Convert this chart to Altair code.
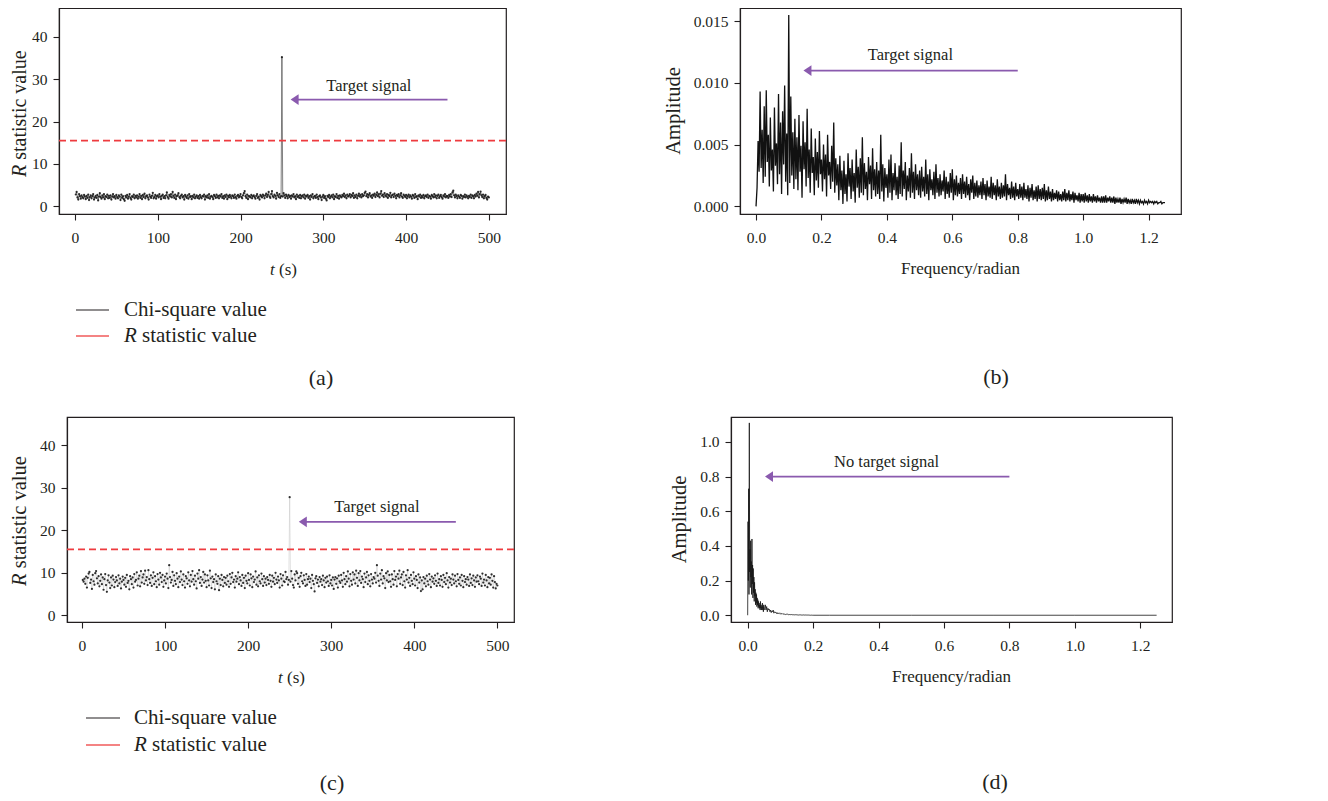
import altair as alt
import numpy as np
import pandas as pd

FONT = "Liberation Serif"
INK = "#231f20"
PURPLE = "#8a5aae"
RED = "#ee3b3f"

# ---------------- data ----------------
chi_a = [
    2.8,3.4,2.1,1.6,2.9,2.4,1.8,2.6,2.2,1.9,2.7,2.3,1.7,2.5,2.0,2.8,1.5,2.2,2.6,1.9,2.4,2.9,1.6,2.1,2.5,
    2.0,2.7,1.4,2.3,3.1,2.2,1.8,2.6,2.1,2.9,1.7,2.4,2.2,2.8,1.9,2.5,2.0,2.6,1.6,2.3,2.9,2.1,2.4,1.8,2.7,
    2.2,1.9,2.6,2.3,1.5,2.8,2.0,2.4,1.7,1.3,2.5,2.1,2.7,1.8,2.3,2.9,2.0,1.6,2.4,2.2,2.8,1.9,2.5,2.1,2.6,
    1.8,2.3,2.9,2.0,2.5,1.7,2.7,2.2,3.0,1.9,2.4,2.6,2.1,1.6,2.8,2.3,2.0,2.5,3.2,1.9,2.2,2.7,1.8,2.4,2.6,
    2.1,2.9,2.3,1.7,2.5,2.8,2.0,2.4,1.9,2.6,3.3,2.2,1.8,2.7,2.3,2.9,2.1,3.4,2.5,2.0,2.8,1.7,2.4,2.6,3.1,
    2.2,1.9,2.5,2.8,2.1,2.4,1.6,2.7,2.3,2.0,2.6,1.8,2.9,2.2,2.4,1.7,2.5,2.1,2.8,1.9,2.3,2.6,2.0,2.4,1.8,
    2.7,2.2,1.9,2.5,2.3,2.8,1.6,2.4,2.1,2.6,2.0,2.9,1.8,2.3,2.5,2.2,1.7,2.7,2.4,2.0,2.8,2.1,2.5,1.9,2.6,
    2.3,2.9,2.0,2.4,1.8,2.6,2.2,2.8,1.7,2.5,2.1,2.7,2.3,1.9,2.6,2.4,2.0,2.8,2.2,1.8,2.5,2.7,2.1,2.4,2.9,
    2.2,1.9,2.6,3.1,3.6,2.4,2.0,2.8,1.7,2.5,2.3,2.1,2.7,1.9,2.4,2.6,2.2,1.8,2.5,2.9,2.0,2.3,1.6,2.7,2.4,
    2.1,2.8,2.5,1.9,2.6,3.0,2.2,2.7,3.4,2.3,2.0,2.9,3.6,2.4,2.1,2.8,2.5,1.8,3.2,2.6,2.2,2.9,2.0,2.4,35.2,
    2.3,3.1,2.6,2.0,2.8,2.4,1.9,2.7,2.2,2.5,1.8,2.6,2.3,2.9,2.1,2.4,1.7,2.8,2.2,2.5,2.0,2.7,1.9,2.4,2.6,
    2.1,2.8,1.8,2.5,2.3,2.7,2.0,2.4,1.6,2.6,2.2,2.9,1.9,2.3,2.5,2.0,2.8,2.2,1.7,2.4,2.6,2.1,1.5,2.3,2.7,
    2.0,2.4,1.8,1.4,2.5,2.2,2.7,1.9,2.3,2.6,2.1,2.8,1.7,2.4,2.2,2.9,2.0,2.5,1.8,2.6,2.3,2.1,2.7,2.4,3.0,
    2.2,2.6,1.9,2.8,2.3,2.5,2.9,2.1,2.7,2.4,3.1,2.0,2.6,2.2,2.8,1.9,2.5,3.0,2.3,2.7,2.1,2.9,2.4,2.6,3.2,
    3.5,2.4,2.9,2.1,2.7,3.1,2.3,2.6,2.0,2.8,2.5,3.0,2.2,2.7,3.3,2.4,2.9,2.1,3.0,3.6,2.5,2.8,2.2,3.1,2.6,
    2.3,2.9,2.0,2.7,2.4,3.2,2.1,2.6,2.8,2.2,3.0,2.5,1.9,2.7,2.4,2.9,2.1,2.6,3.1,2.3,2.0,2.8,2.5,2.2,2.7,
    1.9,2.4,2.8,2.1,2.6,2.3,1.8,2.7,2.5,2.0,2.9,2.2,2.4,1.7,2.6,2.3,2.8,2.0,2.5,2.1,2.7,1.9,2.4,2.6,2.2,
    2.8,2.0,2.5,2.3,1.8,2.7,2.4,2.1,2.9,2.2,2.6,1.9,2.5,2.8,2.0,2.4,2.7,2.2,1.8,2.6,2.3,2.9,2.1,2.5,2.4,
    2.0,2.7,2.3,2.9,2.2,3.3,3.7,2.6,2.1,2.8,2.4,1.9,2.6,2.3,2.0,2.7,2.5,1.8,2.4,2.2,2.8,2.1,2.6,2.3,1.9,
    2.5,2.2,2.8,2.0,2.6,2.4,1.9,2.7,2.3,3.0,2.5,3.4,2.1,2.9,3.5,2.6,2.2,2.8,1.9,2.4,2.7,2.0,1.6,2.3,2.1,
]

chi_c = [
    8.3,7.9,8.6,7.4,9.1,6.5,8.8,9.8,10.2,7.6,8.4,6.2,9.5,8.0,7.2,9.9,10.4,8.7,7.5,9.2,6.8,8.1,9.6,7.3,8.9,
    6.0,8.5,9.7,7.1,5.5,8.2,9.4,7.7,6.4,8.9,7.0,9.3,8.4,6.6,7.8,9.0,8.2,6.9,9.4,7.5,8.6,6.3,7.9,9.1,8.3,
    7.2,8.8,6.7,9.5,7.6,8.1,6.1,9.2,8.5,7.3,8.9,6.5,9.7,7.9,8.3,10.1,7.0,8.6,9.3,6.8,10.4,7.7,8.9,9.6,7.4,
    10.5,8.2,9.0,7.1,10.6,8.5,7.6,9.4,6.9,8.8,10.1,7.3,9.2,8.0,6.6,9.7,8.4,7.2,10.0,8.9,7.8,9.5,6.7,8.2,9.1,
    7.5,9.8,8.6,6.4,11.8,9.0,7.7,8.3,10.2,6.9,9.4,8.1,7.3,9.9,8.6,6.6,9.1,7.8,10.3,8.4,7.1,9.6,8.0,6.5,9.2,
    8.7,7.4,10.1,8.2,6.8,9.5,7.9,10.4,8.5,7.2,9.3,8.0,6.3,9.8,8.6,10.6,7.6,9.0,6.9,8.4,10.2,7.7,9.6,8.1,6.6,
    9.4,8.2,7.0,10.5,8.7,6.4,9.1,7.8,8.5,6.1,9.6,8.0,7.4,9.2,5.9,8.6,7.1,9.5,8.3,6.8,9.0,7.6,8.8,7.2,9.3,
    8.0,6.7,9.7,7.4,8.9,10.0,7.8,8.4,6.5,9.2,7.9,8.6,10.1,7.3,9.0,8.2,6.9,9.5,7.6,8.8,6.4,9.3,8.1,7.5,9.9,
    8.3,7.0,9.6,8.7,6.6,9.1,7.8,8.4,10.3,7.2,8.9,6.8,9.4,8.0,7.5,9.8,8.5,6.9,9.2,7.7,8.6,7.1,9.0,8.3,7.4,
    9.5,8.1,6.7,9.3,7.9,8.8,7.3,10.0,8.4,7.6,9.1,8.2,6.5,9.7,8.6,7.0,9.4,8.0,7.8,10.2,8.5,9.0,7.2,8.3,27.8,
    7.9,10.4,8.6,7.1,6.5,9.6,8.2,10.3,9.9,7.4,8.8,6.7,9.2,10.0,8.0,7.5,9.4,8.3,6.9,9.7,7.2,8.5,9.1,7.8,8.6,
    6.4,9.5,8.1,7.3,5.6,8.7,9.2,7.6,8.4,6.8,9.0,7.9,8.5,7.1,9.3,8.2,6.6,8.8,7.7,9.1,8.0,6.9,9.4,7.5,8.3,
    7.0,8.9,6.2,8.4,9.0,7.4,8.7,6.5,9.3,8.0,7.6,9.5,8.2,6.7,10.0,8.5,7.3,9.2,7.9,10.3,8.6,6.8,9.7,8.1,7.2,
    10.1,8.4,9.6,7.5,10.5,8.8,6.9,9.9,8.2,10.4,7.6,9.1,8.5,6.6,9.8,7.8,8.9,10.2,7.3,9.4,8.1,6.8,9.7,8.4,7.5,
    9.0,8.6,10.0,7.7,11.8,9.3,8.1,6.9,9.8,8.4,10.6,7.5,9.2,8.7,6.4,9.9,8.2,10.3,7.8,9.5,8.0,6.7,9.6,8.5,7.2,
    10.4,8.3,9.1,6.8,9.7,8.6,10.5,7.4,8.9,9.6,7.1,10.2,8.0,6.5,9.4,8.4,10.6,7.7,8.8,6.9,9.5,8.1,7.3,10.1,8.6,
    7.0,9.2,8.3,6.4,9.6,7.7,8.9,5.7,8.2,6.1,9.0,7.5,8.6,6.8,9.3,8.0,7.2,9.7,8.4,6.6,9.1,7.9,8.7,7.4,9.4,
    8.1,6.9,9.8,7.6,8.5,7.0,9.2,8.3,6.7,9.5,7.8,8.8,7.3,9.9,8.2,6.5,9.0,7.7,8.6,7.1,9.6,8.4,7.5,9.3,8.0,
    6.8,9.7,8.3,7.4,8.9,7.0,9.5,8.1,6.6,9.2,7.8,8.5,7.2,9.0,8.4,6.9,9.6,7.6,8.7,7.1,9.3,8.2,6.7,8.9,7.9,
    9.4,8.0,7.3,9.1,8.6,6.9,9.8,7.7,8.4,7.0,9.5,8.2,6.6,9.0,7.5,8.8,7.2,9.6,8.1,6.5,9.2,7.8,6.3,7.4,7.0,
]

# amplitude spectrum of (b), in units of 1e-3
amp_b_x1000 = [
    0.0,1.5,5.3,2.8,9.3,3.1,6.2,1.9,8.1,2.4,9.4,3.6,5.8,1.6,7.2,2.9,4.6,1.2,8.0,3.3,
    5.1,1.8,9.1,2.6,6.8,1.0,7.7,3.4,9.8,2.0,5.9,0.9,15.5,1.9,8.9,2.5,6.0,1.4,7.1,2.2,
    5.6,1.3,7.4,2.8,4.9,0.7,6.9,3.0,5.2,1.6,7.9,2.3,4.6,1.1,6.3,2.7,4.0,0.9,5.5,2.1,
    4.4,1.5,6.1,2.6,3.8,1.2,5.0,2.2,4.2,0.8,5.8,2.5,3.6,1.4,4.9,2.0,6.8,1.1,3.9,1.7,
    3.4,0.5,4.1,1.3,2.9,0.2,3.7,1.0,2.6,0.4,4.3,1.6,3.1,0.6,3.8,1.2,2.7,0.3,4.6,1.5,
    3.2,0.7,3.9,1.1,5.6,0.9,3.5,1.4,2.8,0.5,4.0,1.8,3.3,0.6,4.7,1.3,3.0,0.8,3.6,1.0,
    2.9,0.6,5.8,1.2,3.4,0.4,3.1,1.5,2.6,0.7,3.8,1.1,4.2,0.5,2.7,1.3,3.5,0.9,2.4,0.6,
    3.3,1.0,5.2,0.8,2.9,1.4,3.6,0.5,2.5,1.2,3.1,0.7,4.3,1.1,2.8,0.6,3.4,1.3,2.6,0.9,
    2.9,0.7,3.2,1.2,2.4,0.8,3.8,1.0,2.6,0.5,3.0,1.3,2.2,0.9,2.8,0.6,3.4,1.1,2.3,0.8,
    2.6,0.9,2.1,1.2,2.9,0.6,2.4,1.0,2.0,0.7,2.7,1.1,3.0,0.5,2.2,0.9,2.5,0.8,1.9,1.0,
    2.3,0.6,2.6,1.0,2.0,0.7,2.4,0.9,1.8,0.5,2.2,1.1,2.5,0.6,1.9,0.8,2.1,0.7,1.7,0.9,
    2.0,0.6,2.3,0.9,1.8,0.5,2.1,0.8,1.6,0.7,2.4,0.6,1.9,0.9,1.7,0.5,2.2,0.8,1.6,0.6,
    1.9,0.7,1.7,0.8,2.6,0.5,1.8,0.9,1.5,0.6,2.0,0.7,1.6,0.5,1.9,0.8,1.4,0.6,1.8,0.7,
    1.6,0.5,1.9,0.7,1.4,0.6,1.7,0.4,1.5,0.7,1.8,0.5,1.3,0.6,1.6,0.4,1.7,0.6,1.4,0.5,
    1.5,0.6,1.8,0.4,1.3,0.5,1.6,0.6,1.2,0.4,1.4,0.5,1.1,0.6,1.3,0.4,1.2,0.5,1.0,0.4,
    1.2,0.5,1.4,0.4,1.1,0.5,1.3,0.4,1.0,0.5,1.2,0.3,1.1,0.5,0.9,0.4,1.1,0.3,1.0,0.4,
    1.0,0.3,1.1,0.4,0.9,0.3,1.0,0.4,0.8,0.3,1.0,0.4,0.8,0.3,0.9,0.4,0.7,0.3,0.8,0.3,
    0.8,0.3,0.9,0.3,0.7,0.4,0.8,0.3,0.7,0.3,0.8,0.2,0.7,0.3,0.6,0.3,0.7,0.2,0.6,0.3,
    0.6,0.3,0.7,0.2,0.6,0.3,0.5,0.2,0.6,0.3,0.5,0.2,0.6,0.3,0.5,0.2,0.5,0.3,0.4,0.2,
    0.5,0.3,0.4,0.2,0.5,0.3,0.4,0.3,0.4,0.2,0.4,0.3,0.4,0.2,0.3,0.3,0.4,0.2,0.3,0.3,
    0.3,
]

# amplitude spectrum of (d): fine part 0..0.05 (step 0.001), then 0.052..0.2 (step 0.002), then tail
amp_d_fine = [
    0.0,0.54,0.20,0.73,0.12,1.11,0.25,0.38,0.16,0.43,
    0.22,0.31,0.12,0.44,0.18,0.29,0.10,0.27,0.13,0.22,
    0.08,0.19,0.11,0.15,0.06,0.13,0.07,0.12,0.05,0.10,
    0.06,0.09,0.04,0.08,0.05,0.07,0.04,0.06,0.03,0.08,
    0.04,0.06,0.03,0.05,0.04,0.07,0.03,0.05,0.02,0.06,
    0.03,
]
amp_d_mid = [
    0.04,0.06,0.03,0.05,0.02,0.04,0.03,0.035,0.02,0.03,0.015,0.025,0.02,0.03,0.012,0.02,0.015,0.018,0.01,0.015,
    0.008,0.012,0.01,0.014,0.006,0.01,0.008,0.009,0.005,0.008,0.006,0.007,0.004,0.006,0.005,0.006,0.003,0.005,0.004,0.004,
    0.003,0.004,0.002,0.004,0.003,0.003,0.002,0.003,0.002,0.003,0.002,0.002,0.001,0.002,0.002,0.002,0.001,0.002,0.001,0.002,
    0.001,0.001,0.001,0.002,0.001,0.001,0.001,0.001,0.0,0.001,0.0,0.001,0.0,0.0,0.0,
]
freq_d_tail = [0.25, 0.5, 0.75, 1.0, 1.25]
amp_d_tail = [0.0, 0.0, 0.0, 0.0, 0.0]

threshold = 15.5
ticks_t = [0, 100, 200, 300, 400, 500]
ticks_r = [0, 10, 20, 30, 40]
ticks_f = [0.0, 0.2, 0.4, 0.6, 0.8, 1.0, 1.2]
ticks_b = [0.0, 0.005, 0.010, 0.015]
ticks_d = [0.0, 0.2, 0.4, 0.6, 0.8, 1.0]

# ---------------- tables ----------------
df_a = pd.DataFrame({"t": np.arange(1, len(chi_a) + 1), "v": chi_a})
df_c = pd.DataFrame({"t": np.arange(1, len(chi_c) + 1), "v": chi_c})
df_b = pd.DataFrame({"t": np.linspace(0, 1.25, len(amp_b_x1000)),
                     "v": np.array(amp_b_x1000) / 1000.0})
freq_d = np.concatenate([np.round(np.arange(len(amp_d_fine)) * 0.001, 4),
                         np.round(0.052 + np.arange(len(amp_d_mid)) * 0.002, 4),
                         freq_d_tail])
df_d = pd.DataFrame({"t": freq_d, "v": amp_d_fine + amp_d_mid + amp_d_tail})

one = pd.DataFrame({"k": [0]})


def txt(s, x, y, size, italic=False, align="left", angle=0, baseline="middle", color=INK):
    return alt.Chart(one).mark_text(
        text=s, font=FONT, fontSize=size, fontStyle="italic" if italic else "normal",
        align=align, baseline=baseline, angle=angle, color=color,
    ).encode(x=alt.value(x), y=alt.value(y))


def ghost(x, y, length=4):
    return alt.Chart(one).mark_rule(opacity=0, strokeWidth=1).encode(
        x=alt.value(x), x2=alt.value(x + length), y=alt.value(y))


def spacer():
    return alt.Chart(one).mark_rule(opacity=0).encode(
        x=alt.value(0), x2=alt.value(1), y=alt.value(0)
    ).properties(width=1, height=1, view=alt.ViewBackground(strokeOpacity=0))


def axis(vals, fmt, orient):
    return alt.Axis(values=vals, format=fmt, title=None, grid=False, labelFont=FONT,
                    labelFontSize=15.5, labelColor=INK, tickSize=6, tickColor=INK, tickWidth=1.1,
                    domainColor=INK, domainWidth=1.2,
                    labelPadding=10 if orient == "x" else 6, labelFlush=False,
                    labelOverlap=False)


def enc(xs, ys, xax, yax):
    return dict(x=alt.X("t:Q", scale=xs, axis=xax), y=alt.Y("v:Q", scale=ys, axis=yax))


def arrow(xs, ys, xax, yax, x_from, x_tip, y, x_shaft_end):
    shaft = alt.Chart(pd.DataFrame({"t": [x_from], "t2": [x_shaft_end], "v": [y]})).mark_rule(
        color=PURPLE, strokeWidth=1.7).encode(x2="t2:Q", **enc(xs, ys, xax, yax))
    head = alt.Chart(pd.DataFrame({"t": [x_tip], "v": [y]})).mark_point(
        shape="M0,0L2,-1.35L2,1.35Z", filled=True, size=64, color=PURPLE, opacity=1,
        strokeWidth=0).encode(**enc(xs, ys, xax, yax))
    return shaft + head


def chi_panel(df, xdom, ydom, w, h, arrow_spec, label_txt, ann_xy, ytitle_x, ysize, leg, lab,
              ghost_x, line_color, line_w):
    xs = alt.Scale(domain=xdom, nice=False, zero=False)
    ys = alt.Scale(domain=ydom, nice=False, zero=False)
    xax = axis(ticks_t, "d", "x")
    yax = axis(ticks_r, "d", "y")
    base = alt.Chart(df).encode(**enc(xs, ys, xax, yax))
    line = base.mark_line(color=line_color, strokeWidth=line_w, clip=True)
    pts = base.mark_circle(size=5, color="#1a1a1a", opacity=0.9, clip=True)
    thr = alt.Chart(pd.DataFrame({"v": [threshold]})).mark_rule(
        color=RED, strokeDash=[7, 4], strokeWidth=1.6, opacity=1).encode(
        y=alt.Y("v:Q", scale=ys, axis=yax))
    arr = arrow(xs, ys, xax, yax, *arrow_spec)
    ann = alt.Chart(pd.DataFrame({"t": [ann_xy[0]], "v": [ann_xy[1]]})).mark_text(
        text="Target signal", font=FONT, fontSize=16.5, color=INK, baseline="alphabetic").encode(
        **enc(xs, ys, xax, yax))
    wR = 0.611 * ysize
    yR = txt("R", ytitle_x, 169, ysize, italic=True, angle=270, align="left")
    yrest = txt("statistic value", ytitle_x, 169 - wR - 0.25 * ysize, ysize, angle=270,
                align="left")
    xt = txt("t", 211, h + 56, 17, italic=True)
    xs_ = txt("(s)", 211 + 4.7 + 4.3, h + 56, 17)
    lx0, lx1, ltx, ly1, ly2 = leg
    leg1 = alt.Chart(one).mark_rule(color=INK, strokeWidth=1.2).encode(
        x=alt.value(lx0), x2=alt.value(lx1), y=alt.value(ly1))
    leg2 = alt.Chart(one).mark_rule(color="#f05a5a", strokeWidth=1.4).encode(
        x=alt.value(lx0), x2=alt.value(lx1), y=alt.value(ly2))
    lt1 = txt("Chi-square value", ltx, ly1, 21)
    lt2a = txt("R", ltx, ly2, 21, italic=True)
    lt2b = txt("statistic value", ltx + 12.8 + 5.2, ly2, 21)
    lbl = txt(label_txt, lab[0], lab[1], 22, align="center")
    g1 = ghost(ghost_x, 100)
    g2 = ghost(200, 392)
    return alt.layer(line, pts, thr, arr, ann, yR, yrest, xt, xs_, leg1, leg2, lt1, lt2a, lt2b,
                     lbl, g1, g2).properties(width=w, height=h)


def amp_panel(df, xdom, ydom, w, h, yvals, yfmt, arrow_spec, ann_text, ann_xy, ytitle_x, lab,
              line_color, lw, ghost_x):
    xs = alt.Scale(domain=xdom, nice=False, zero=False)
    ys = alt.Scale(domain=ydom, nice=False, zero=False)
    xax = axis(ticks_f, ".1f", "x")
    yax = axis(yvals, yfmt, "y")
    line = alt.Chart(df).mark_line(color=line_color, strokeWidth=lw, clip=True).encode(
        **enc(xs, ys, xax, yax))
    arr = arrow(xs, ys, xax, yax, *arrow_spec)
    ann = alt.Chart(pd.DataFrame({"t": [ann_xy[0]], "v": [ann_xy[1]]})).mark_text(
        text=ann_text, font=FONT, fontSize=16.5, color=INK, baseline="alphabetic").encode(
        **enc(xs, ys, xax, yax))
    yt = txt("Amplitude", ytitle_x, h / 2, 20.5, angle=270, align="center")
    xt = txt("Frequency/radian", w / 2, h + 55, 17, align="center")
    lbl = txt(lab[0], lab[1], lab[2], 22, align="center")
    g1 = ghost(ghost_x, 100)
    g2 = ghost(200, 392)
    return alt.layer(line, arr, ann, yt, xt, lbl, g1, g2).properties(width=w, height=h)


A = chi_panel(df_a, [-19.3, 520.7], [-1.8, 46.8], 447, 206,
              (450, 260.5, 25.2, 268), "(a)", (355, 27.3), -39, 20,
              (17, 50, 65, 302, 328), (262, 370), -59, "#4a4a4a", 0.7)
B = amp_panel(df_b, [-0.049, 1.299], [-0.00062, 0.01607], 441, 206, ticks_b, ".3f",
              (0.8, 0.145, 0.011, 0.165), "Target signal", (0.472, 0.01185), -66,
              ("(b)", 256, 369), "#111111", 1.3, -231.4)
C = chi_panel(df_c, [-18, 520], [-1.6, 46.7], 447, 205,
              (450, 261, 22.0, 268), "(c)", (355, 24.2), -47, 20.5,
              (19, 53, 67, 301, 328), (265, 366), -67.3, "#c4c4c4", 0.5)
D = amp_panel(df_d, [-0.051, 1.297], [-0.039, 1.144], 441, 205, ticks_d, ".1f",
              (0.8, 0.053, 0.8, 0.07), "No target signal", (0.4245, 0.858), -51,
              ("(d)", 264, 365), "#151515", 0.8, -214.4)

row1 = alt.hconcat(spacer(), A, B, spacing=0)
row2 = alt.hconcat(spacer(), C, D, spacing=0)
chart = alt.vconcat(row1, row2, spacing=15).properties(
    padding={"left": -10, "top": -1, "right": 5, "bottom": -2},
).configure_view(stroke=INK, strokeWidth=1.2)

chart.save("out.html", embed_options={"renderer": "svg", "actions": False})
